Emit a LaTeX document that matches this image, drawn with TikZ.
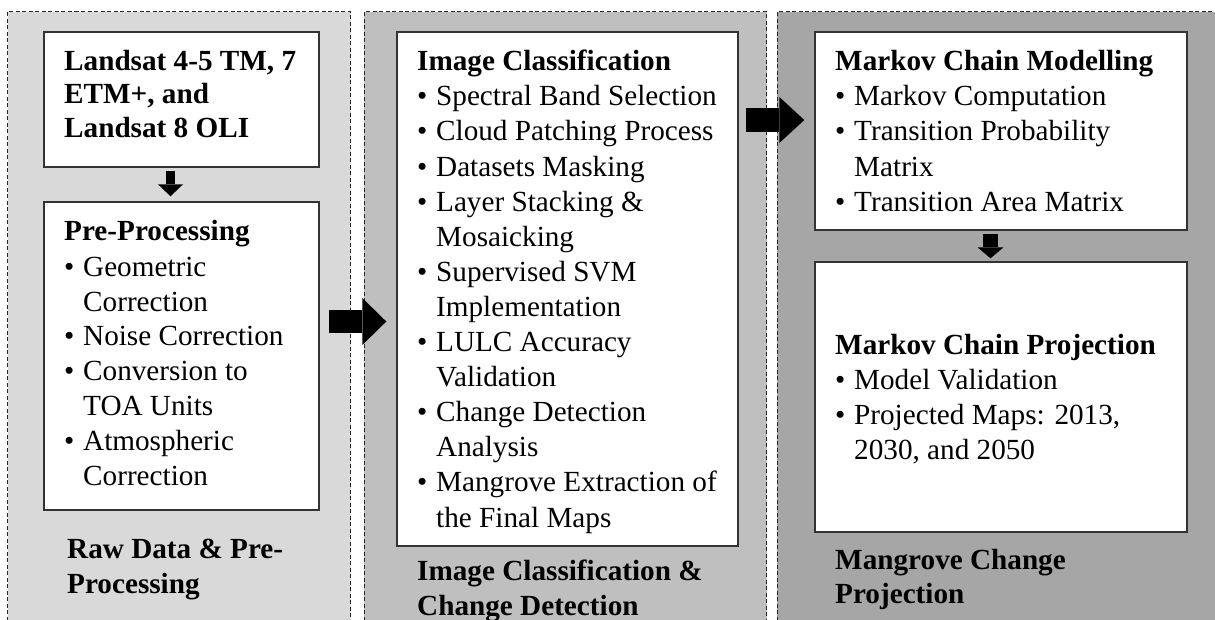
\documentclass[tikz,border=0pt]{standalone}
\usepackage{fontspec}
\setmainfont{Liberation Serif}
\usetikzlibrary{arrows.meta}
\definecolor{pone}{HTML}{D9D9D9}
\definecolor{ptwo}{HTML}{BFBFBF}
\definecolor{pthree}{HTML}{A6A6A6}
\definecolor{edge}{HTML}{333333}
\newcommand\myb{\makebox[19pt][l]{\textbullet}}
\begin{document}
\begin{tikzpicture}[x=1pt,y=-1pt,
  panelline/.style={draw=black!85, dash pattern=on 4pt off 2.5pt, line width=0.9pt},
  box/.style={draw=edge, fill=white, line width=1.4pt, inner sep=0pt},
  txt/.style={anchor=base west, inner sep=0pt, font=\fontsize{29.2}{35}\selectfont},
  ttl/.style={anchor=base west, inner sep=0pt, font=\fontsize{29.2}{35}\selectfont\bfseries},
  blockarrow/.style={line width=#1, draw=black, line cap=butt}]
\useasboundingbox (0,0) rectangle (1215,619);
\clip (0,0) rectangle (1215,619);
% panels
\fill[pone] (7.5,11.5) rectangle (350.5,640);
\draw[panelline] (7.5,640) -- (7.5,11.5) -- (350.5,11.5) -- (350.5,640);
\fill[ptwo] (364,11.5) rectangle (766.5,640);
\draw[panelline] (364,640) -- (364,11.5) -- (766.5,11.5) -- (766.5,640);
\fill[pthree] (777,11.5) rectangle (1230,640);
\draw[panelline] (777,640) -- (777,11.5) -- (1230,11.5);
% boxes
\node[box, minimum width=275pt, minimum height=135pt] (ls) at (181.5,99.5) {};
\node[box, minimum width=275pt, minimum height=308pt] (pp) at (181.5,356) {};
\node[box, minimum width=341pt, minimum height=514pt] (ic) at (567.5,289) {};
\node[box, minimum width=372pt, minimum height=198pt] (mcm) at (1001,131) {};
\node[box, minimum width=372pt, minimum height=270pt] (mcp) at (1001,397) {};
% arrows
\draw[blockarrow=9pt, -{Triangle[width=25pt,length=12pt,line width=0pt]}, shorten <=3pt, shorten >=5pt]
  ([xshift=-11pt]ls.south) -- ([xshift=-11pt]pp.north);
\draw[blockarrow=23pt, -{Triangle[width=47pt,length=24pt,line width=0pt]}, shorten <=9pt, shorten >=10pt]
  ([yshift=34.5pt]pp.east) -- ([yshift=-32.5pt]ic.west);
\draw[blockarrow=24pt, -{Triangle[width=46pt,length=25pt,line width=0pt]}, shorten <=7pt, shorten >=10pt]
  ([yshift=169pt]ic.east) -- ([yshift=11pt]mcm.west);
\draw[blockarrow=15pt, -{Triangle[width=26pt,length=11pt,line width=0pt]}, shorten <=3pt, shorten >=3pt]
  ([xshift=-10.5pt]mcm.south) -- ([xshift=-10.5pt]mcp.north);
% panel 1 texts
\node[ttl] (ls1) at (64,70) {Landsat 4-5 TM, 7};
\node[ttl] (ls2) at (64,103.5) {ETM+, and};
\node[ttl] (ls3) at (64,137) {Landsat 8 OLI};
\node[ttl] (pp0) at (64,240.7) {Pre-Processing};
\node[txt] (pp1) at (64,276) {\myb Geometric};
\node[txt] (pp2) at (83,311) {Correction};
\node[txt] (pp3) at (64,345.5) {\myb Noise Correction};
\node[txt] (pp4) at (64,380.5) {\myb Conversion to};
\node[txt] (pp5) at (83,415.5) {TOA Units};
\node[txt] (pp6) at (64,450.5) {\myb Atmospheric};
\node[txt] (pp7) at (83,485.5) {Correction};
\node[ttl] (lab1a) at (67,558) {Raw Data \& Pre-};
\node[ttl] (lab1b) at (67,593) {Processing};
% panel 2 texts
\node[ttl] (ic0) at (417,70.7) {Image Classification};
\node[txt] (ic1) at (417,105.8) {\myb Spectral Band Selection};
\node[txt] (ic2) at (417,140.9) {\myb Cloud Patching Process};
\node[txt] (ic3) at (417,176) {\myb Datasets Masking};
\node[txt] (ic4) at (417,211.1) {\myb Layer Stacking \&};
\node[txt] (ic5) at (436,246.2) {Mosaicking};
\node[txt] (ic6) at (417,281.3) {\myb Supervised SVM};
\node[txt] (ic7) at (436,316.4) {Implementation};
\node[txt] (ic8) at (417,351.5) {\myb LULC Accuracy};
\node[txt] (ic9) at (436,386.6) {Validation};
\node[txt] (ic10) at (417,421.7) {\myb Change Detection};
\node[txt] (ic11) at (436,456.8) {Analysis};
\node[txt] (ic12) at (417,491.9) {\myb Mangrove Extraction of};
\node[txt] (ic13) at (436,527) {the Final Maps};
\node[ttl] (lab2a) at (417,580) {Image Classification \&};
\node[ttl] (lab2b) at (417,615) {Change Detection};
% panel 3 texts
\node[ttl] (mc0) at (835,70.7) {Markov Chain Modelling};
\node[txt] (mc1) at (835,105.8) {\myb Markov Computation};
\node[txt] (mc2) at (835,140.9) {\myb Transition Probability};
\node[txt] (mc3) at (854,176) {Matrix};
\node[txt] (mc4) at (835,211.1) {\myb Transition Area Matrix};
\node[ttl] (mp0) at (835,354) {Markov Chain Projection};
\node[txt] (mp1) at (835,389) {\myb Model Validation};
\node[txt] (mp2) at (835,424) {\myb Projected Maps: 2013,};
\node[txt] (mp3) at (854,459) {2030, and 2050};
\node[ttl] (lab3a) at (835,569) {Mangrove Change};
\node[ttl] (lab3b) at (835,603) {Projection};
\end{tikzpicture}
\end{document}
